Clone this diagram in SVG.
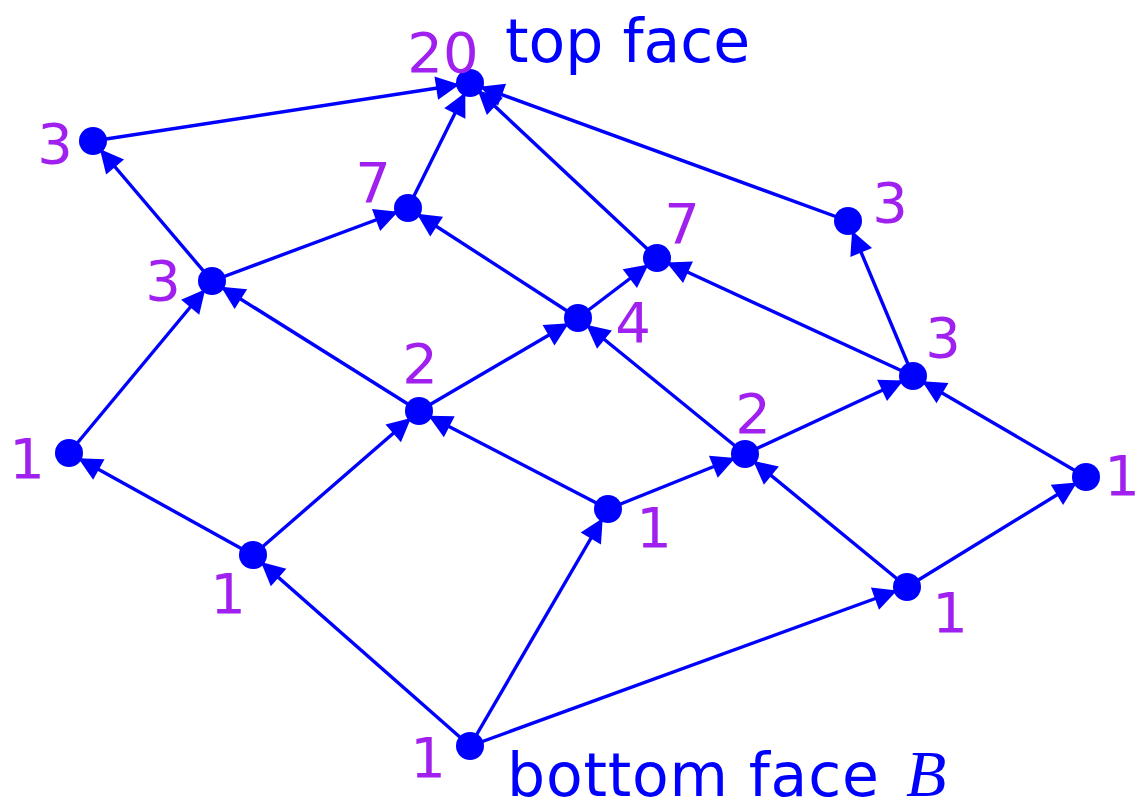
<svg xmlns="http://www.w3.org/2000/svg" width="1138" height="809" viewBox="0 0 1138 809">
<style>
.e{stroke:#0000FF;stroke-width:3.4;fill:none;marker-end:url(#ah)}
.n{fill:#0000FF}
.l{fill:#A020F0;font-family:"DejaVu Sans",sans-serif;font-size:56px;text-anchor:middle}
.t{fill:#0000FF;font-family:"DejaVu Sans",sans-serif;font-size:60px}
</style>
<defs>
<marker id="ah" markerUnits="userSpaceOnUse" orient="auto" refX="29" refY="0" markerWidth="40" markerHeight="40" viewBox="-2 -12 34 24" overflow="visible">
<path d="M0,-10 L20,0 L0,10 z" fill="#0000FF"/>
</marker>
</defs>
<rect width="1138" height="809" fill="#FFFFFF"/>
<g id="connectors">
<line class="e" x1="93" y1="141" x2="470" y2="83"/>
<line class="e" x1="408" y1="208" x2="470" y2="83"/>
<line class="e" x1="657" y1="258" x2="470" y2="83"/>
<line class="e" x1="848" y1="221" x2="470" y2="83"/>
<line class="e" x1="212" y1="281" x2="93" y2="141"/>
<line class="e" x1="212" y1="281" x2="408" y2="208"/>
<line class="e" x1="578" y1="318" x2="408" y2="208"/>
<line class="e" x1="578" y1="318" x2="657" y2="258"/>
<line class="e" x1="913" y1="376" x2="657" y2="258"/>
<line class="e" x1="913" y1="376" x2="848" y2="221"/>
<line class="e" x1="419" y1="411" x2="212" y2="281"/>
<line class="e" x1="69" y1="453" x2="212" y2="281"/>
<line class="e" x1="419" y1="411" x2="578" y2="318"/>
<line class="e" x1="745" y1="454" x2="578" y2="318"/>
<line class="e" x1="745" y1="454" x2="913" y2="376"/>
<line class="e" x1="1086" y1="477" x2="913" y2="376"/>
<line class="e" x1="608" y1="509" x2="419" y2="411"/>
<line class="e" x1="253" y1="555" x2="419" y2="411"/>
<line class="e" x1="608" y1="509" x2="745" y2="454"/>
<line class="e" x1="907" y1="587" x2="745" y2="454"/>
<line class="e" x1="253" y1="555" x2="69" y2="453"/>
<line class="e" x1="907" y1="587" x2="1086" y2="477"/>
<line class="e" x1="470" y1="746" x2="253" y2="555"/>
<line class="e" x1="470" y1="746" x2="608" y2="509"/>
<line class="e" x1="470" y1="746" x2="907" y2="587"/>
</g>
<g id="top"><circle class="n" cx="470" cy="83" r="14"/><text class="l" x="443" y="72">20</text><text class="t" x="505" y="62">top face</text></g>
<g id="a"><circle class="n" cx="93" cy="141" r="14"/><text class="l" x="55" y="163">3</text></g>
<g id="b"><circle class="n" cx="408" cy="208" r="14"/><text class="l" x="373" y="202">7</text></g>
<g id="c"><circle class="n" cx="848" cy="221" r="14"/><text class="l" x="890" y="222">3</text></g>
<g id="d"><circle class="n" cx="212" cy="281" r="14"/><text class="l" x="163" y="300">3</text></g>
<g id="e"><circle class="n" cx="657" cy="258" r="14"/><text class="l" x="682" y="243">7</text></g>
<g id="f"><circle class="n" cx="578" cy="318" r="14"/><text class="l" x="633" y="342">4</text></g>
<g id="g"><circle class="n" cx="419" cy="411" r="14"/><text class="l" x="420" y="383">2</text></g>
<g id="h"><circle class="n" cx="913" cy="376" r="14"/><text class="l" x="943" y="357">3</text></g>
<g id="i"><circle class="n" cx="69" cy="453" r="14"/><text class="l" x="27" y="478">1</text></g>
<g id="j"><circle class="n" cx="745" cy="454" r="14"/><text class="l" x="753" y="433">2</text></g>
<g id="k"><circle class="n" cx="608" cy="509" r="14"/><text class="l" x="654" y="547">1</text></g>
<g id="lnode"><circle class="n" cx="1086" cy="477" r="14"/><text class="l" x="1122" y="495">1</text></g>
<g id="m"><circle class="n" cx="253" cy="555" r="14"/><text class="l" x="228" y="613">1</text></g>
<g id="nn"><circle class="n" cx="907" cy="587" r="14"/><text class="l" x="950" y="632">1</text></g>
<g id="bot"><circle class="n" cx="470" cy="746" r="14"/><text class="l" x="428" y="777">1</text><text class="t" x="507" y="796" letter-spacing="0.8">bottom face</text><text x="906" y="796" fill="#0000FF" font-family="'Liberation Serif',serif" font-style="italic" font-size="66px">B</text></g>
</svg>
